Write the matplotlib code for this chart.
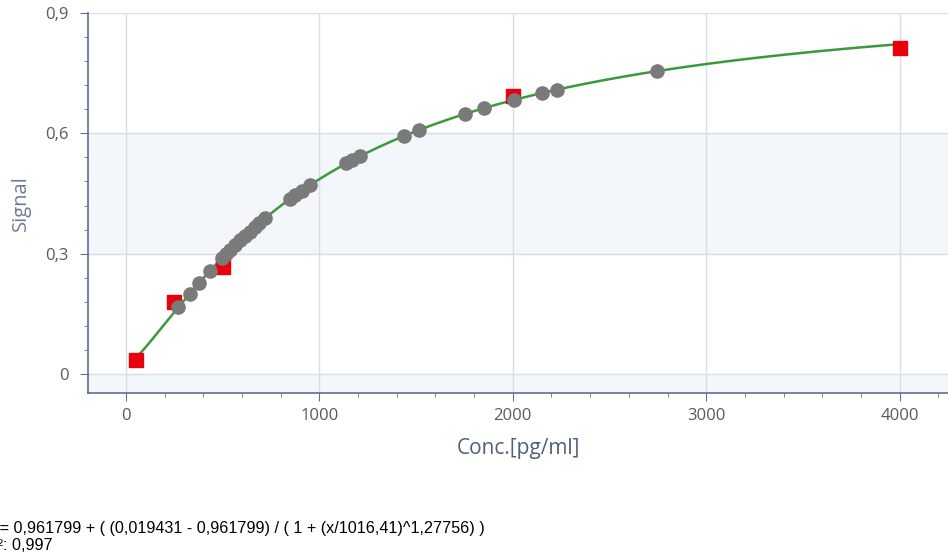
import numpy as np
import matplotlib
matplotlib.use("Agg")
import matplotlib.pyplot as plt
from matplotlib.ticker import MultipleLocator, FuncFormatter

# === Data ===
# standards (red squares)
std_conc = [50, 250, 500, 2000, 4000]
std_signal = [0.035, 0.180, 0.266, 0.692, 0.813]

# samples (grey circles)
smp_conc = [270, 330, 380, 435, 495, 520, 540, 565, 590, 615, 640, 665, 690, 720,
            850, 875, 910, 950, 1140, 1170, 1210, 1440, 1515, 1755, 1850, 2005,
            2150, 2230, 2745]
smp_signal = [0.166, 0.200, 0.228, 0.258, 0.288, 0.300, 0.310, 0.322, 0.333, 0.344,
              0.355, 0.366, 0.376, 0.389, 0.437, 0.446, 0.457, 0.470, 0.525, 0.533,
              0.543, 0.594, 0.608, 0.649, 0.663, 0.683, 0.700, 0.709, 0.755]

# 4PL fit parameters (as printed under the chart)
A, D, C, B = 0.961799, 0.019431, 1016.41, 1.27756
r2 = "0,997"

x_ticks = [0, 1000, 2000, 3000, 4000]
y_ticks = [0, 0.3, 0.6, 0.9]

# === Plot ===
fig = plt.figure(figsize=(9.48, 5.6), dpi=100)
ax = fig.add_axes([88 / 948, 1 - 393 / 560, 1 - 88 / 948, 380 / 560])

ax.set_xlim(-196, 4250)
ax.set_ylim(-0.0474, 0.9)

# alternating bands
band = "#f3f6fb"
ax.axhspan(-0.1, 0, color=band, zorder=0, lw=0)
ax.axhspan(0.3, 0.6, color=band, zorder=0, lw=0)

ax.set_xticks(x_ticks)
ax.set_yticks(y_ticks)
ax.xaxis.set_minor_locator(MultipleLocator(200))
ax.yaxis.set_minor_locator(MultipleLocator(0.06))
ax.yaxis.set_major_formatter(FuncFormatter(lambda v, p: f"{v:g}".replace(".", ",")))
ax.grid(True, which="major", color="#d8dde6", lw=1, zorder=1)

# fitted curve
xc = np.linspace(std_conc[0], std_conc[-1], 400)
yc = A + (D - A) / (1 + (xc / C) ** B)
ax.plot(xc, yc, color="#3a9a3a", lw=1.8, zorder=2)

ax.plot(std_conc, std_signal, "s", color="#e8000b", ms=10, mec="#e8000b", zorder=3)
ax.plot(smp_conc, smp_signal, "o", color="#7a7a7a", ms=9.5, mec="#7a7a7a", zorder=4)

for s in ["top", "right"]:
    ax.spines[s].set_visible(False)
spine_col = "#5f6f8c"
for s in ["left", "bottom"]:
    ax.spines[s].set_color(spine_col)
    ax.spines[s].set_linewidth(1.2)

ax.tick_params(which="major", length=6, color=spine_col, labelcolor="#5a5a5a",
               labelsize=12, pad=5)
ax.tick_params(axis="y", which="major", pad=8)
ax.tick_params(which="minor", length=3, color=spine_col)
for lbl in ax.get_xticklabels() + ax.get_yticklabels():
    lbl.set_family("Open Sans")
    lbl.set_fontsize(12)

ax.set_xlabel("Conc.[pg/ml]", family="Open Sans", fontsize=15, color="#4f6078", labelpad=10)
ax.set_ylabel("Signal", family="Open Sans", fontsize=14.5, color="#6d7c96", labelpad=10)

# equation text below, partly cut off at left edge like the source
eq = f"y = {A:.6f} + ( ({D:.6f} - {A:.6f}) / ( 1 + (x/{C:.2f})^{B:.5f}) )".replace(".", ",")
fig.text(-13 / 948, 1 - 533 / 560, eq, family="Liberation Sans", fontsize=11.6,
         color="black", va="baseline")
fig.text(-14 / 948, 1 - 550 / 560, f"R²: {r2}", family="Liberation Sans", fontsize=11.6,
         color="black", va="baseline")

fig.savefig("out.png", dpi=100)
